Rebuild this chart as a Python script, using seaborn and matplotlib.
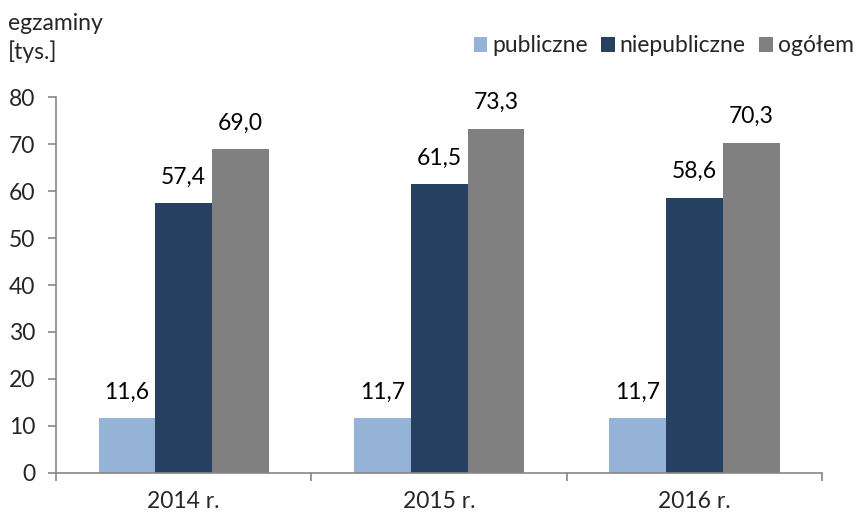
import matplotlib
matplotlib.use("Agg")
import pandas as pd
import matplotlib.pyplot as plt
import seaborn as sns

# -----------------------------
# Data
# -----------------------------
years = ["2014 r.", "2015 r.", "2016 r."]
series = ["publiczne", "niepubliczne", "ogółem"]
publiczne = [11.6, 11.7, 11.7]
niepubliczne = [57.4, 61.5, 58.6]
ogolem = [69.0, 73.3, 70.3]
colors = ["#95B3D7", "#254061", "#808080"]

df = pd.DataFrame({
    "rok": years * 3,
    "typ": [s for s in series for _ in years],
    "wartosc": publiczne + niepubliczne + ogolem,
})

# -----------------------------
# Plot
# -----------------------------
sns.set_style("white")
plt.rcParams["font.family"] = ["Lato", "DejaVu Sans"]
fs = 16.5

fig = plt.figure(figsize=(8.59, 5.15), dpi=100)
ax = fig.add_axes([0.0652, 0.0816, 0.892, 0.730])

sns.barplot(
    data=df, x="rok", y="wartosc", hue="typ",
    palette=colors, width=0.667, gap=0, linewidth=0,
    saturation=1, ax=ax, legend=True,
)

for cont in ax.containers:
    labels = [f"{v:.1f}".replace(".", ",") for v in cont.datavalues]
    ax.bar_label(cont, labels=labels, padding=11, fontsize=fs, color="#000000")

ax.set_xlim(-0.5, 2.5)
ax.set_ylim(0, 80)
ax.set_yticks(range(0, 81, 10))
ax.set_xlabel("")
ax.set_ylabel("")
ax.set_xticks([-0.5, 0.5, 1.5, 2.5], minor=True)
ax.tick_params(axis="x", which="major", bottom=False, length=0, labelsize=fs, pad=13)
ax.tick_params(axis="x", which="minor", bottom=True, length=6, width=1.2,
               color="#868686", direction="out")
ax.tick_params(axis="y", left=True, length=6, width=1.2, color="#868686",
               direction="out", labelsize=fs, pad=9)

for side in ["top", "right"]:
    ax.spines[side].set_visible(False)
for side in ["left", "bottom"]:
    ax.spines[side].set_color("#868686")
    ax.spines[side].set_linewidth(1.2)

ax.legend(
    loc="center right", bbox_to_anchor=(1.068, 1.136), ncol=3, frameon=False,
    fontsize=fs, handlelength=0.6, handleheight=0.6, handletextpad=0.2,
    columnspacing=0.6,
)

fig.text(0.009, 0.975, "egzaminy\n[tys.]", fontsize=fs, va="top", ha="left",
         linespacing=1.35)

plt.savefig("out.png", dpi=100)
